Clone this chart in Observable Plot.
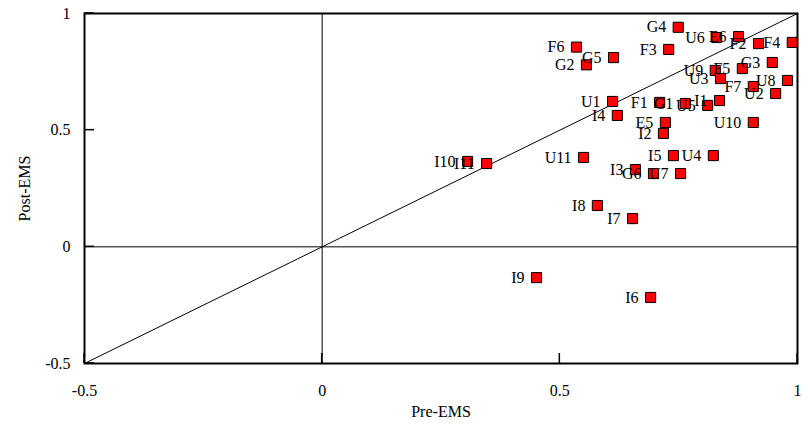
<!DOCTYPE html>
<html>
<head>
<meta charset="utf-8">
<script src="https://cdn.jsdelivr.net/npm/d3@7"></script>
<script src="https://cdn.jsdelivr.net/npm/@observablehq/plot@0.6"></script>
<style>
  html, body { margin: 0; padding: 0; background: #fff; }
</style>
</head>
<body>
<div id="chart"></div>
<script>
const labels = ["G4","F6","G5","G2","F3","U6","E6","F2","F4","G3","U9","U3","F5","F7","U8","U2",
  "U1","I4","F1","G1","U5","I1","E5","U10","I2","U11","I5","U4","I3","G6","U7","I8","I7","I10","I11","I9","I6"];
const preEMS = [0.749,0.535,0.613,0.556,0.729,0.830,0.876,0.918,0.989,0.947,0.827,0.838,0.884,0.907,0.979,0.954,
  0.611,0.621,0.710,0.764,0.811,0.836,0.722,0.907,0.718,0.550,0.739,0.823,0.659,0.697,0.754,0.579,0.653,0.306,0.346,0.451,0.691];
const postEMS = [0.941,0.856,0.811,0.780,0.846,0.897,0.901,0.871,0.876,0.790,0.756,0.721,0.764,0.687,0.713,0.657,
  0.623,0.563,0.619,0.614,0.606,0.627,0.533,0.533,0.486,0.383,0.391,0.391,0.331,0.314,0.314,0.177,0.121,0.366,0.357,-0.132,-0.217];
const axisDomain = [-0.5, 1];
const tickValues = [-0.5, 0, 0.5, 1];
const tickLabels = ["-0.5", "0", "0.5", "1"];

const data = labels.map((l, i) => ({label: l, x: preEMS[i], y: postEMS[i]}));
const fmt = d => tickLabels[tickValues.indexOf(d)];

const tickLen = 10;

// inward ticks drawn through Plot's own scales
function inwardTicks(index, scales, values, dimensions) {
  const g = d3.create("svg:g").attr("stroke", "black").attr("stroke-width", 1.5);
  const {width, height, marginLeft, marginBottom} = dimensions;
  const yBottom = height - marginBottom;
  for (const v of tickValues) {
    const px = scales.x(v);
    g.append("line").attr("x1", px).attr("x2", px).attr("y1", yBottom).attr("y2", yBottom - tickLen);
    const py = scales.y(v);
    g.append("line").attr("x1", marginLeft).attr("x2", marginLeft + tickLen).attr("y1", py).attr("y2", py);
  }
  return g.node();
}

const chart = Plot.plot({
  width: 802,
  height: 429,
  marginLeft: 84,
  marginRight: 5,
  marginTop: 13,
  marginBottom: 66,
  style: {fontFamily: "'Liberation Serif', 'DejaVu Serif', serif", fontSize: "16px", background: "#fff", color: "#000"},
  x: {domain: axisDomain},
  y: {domain: axisDomain},
  marks: [
    Plot.ruleX([0], {stroke: "black", strokeWidth: 1}),
    Plot.ruleY([0], {stroke: "black", strokeWidth: 1}),
    Plot.line(axisDomain, {x: d => d, y: d => d, stroke: "black", strokeWidth: 1}),
    inwardTicks,
    Plot.axisX({ticks: tickValues, tickFormat: fmt, tickSize: 0, tickPadding: 21, label: "Pre-EMS", labelAnchor: "center", labelArrow: "none", labelOffset: 53, fontSize: 16}),
    Plot.axisY({ticks: tickValues, tickFormat: fmt, tickSize: 0, tickPadding: 14, label: "Post-EMS", labelAnchor: "center", labelArrow: "none", labelOffset: 66, fontSize: 16}),
    Plot.frame({stroke: "black", strokeWidth: 2}),
    Plot.dot(data, {x: "x", y: "y", symbol: "square", r: 5.7, fill: "#ff0000", stroke: "black", strokeWidth: 1}),
    Plot.text(data, {x: "x", y: "y", text: "label", textAnchor: "end", dx: -12, fontSize: 16, fill: "black"})
  ]
});
document.getElementById("chart").appendChild(chart);
</script>
</body>
</html>
